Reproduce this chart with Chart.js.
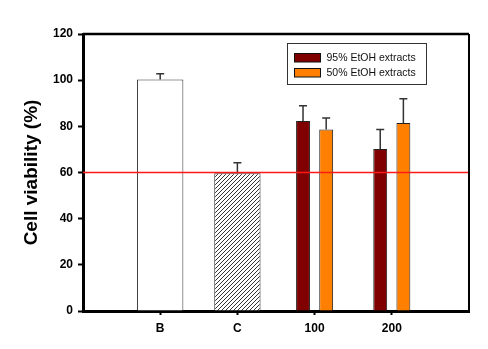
<!DOCTYPE html>
<html>
<head>
<meta charset="utf-8">
<script src="https://cdn.jsdelivr.net/npm/chart.js@4/dist/chart.umd.min.js"></script>
<style>
    html, body { margin: 0; padding: 0; background: #fff; }
    #wrap { position: relative; width: 488px; height: 349px; }
</style>
</head>
<body>
<div id="wrap"><canvas id="viabilityChart"></canvas></div>
<script>
// Treatment groups on the x axis
const categories = ['B', 'C', '100', '200'];

// Cell viability (%), null where a group has no bar
const blankValues = [100.3, null, null, null];
const blankErrors = [2.5, null, null, null];
const controlValues = [null, 59.7, null, null];
const controlErrors = [null, 4.5, null, null];
const etoh95Values = [null, null, 82.3, 70.2];
const etoh95Errors = [null, null, 6.6, 8.4];
const etoh50Values = [null, null, 78.6, 81.4];
const etoh50Errors = [null, null, 5.0, 10.6];

const yTicks = [0, 20, 40, 60, 80, 100, 120];
const referenceValue = 60;

// empty slots at both ends so the groups sit one step in from the frame
const pad = arr => [null, ...arr, null];
const axisLabels = ['', ...categories, ''];

Chart.defaults.font.family = '"Liberation Sans", Arial, sans-serif';
Chart.defaults.color = '#000';

/**
 * Diagonal hatch used for the C bar
 */
function makeHatch() {
    const size = 4;
    const c = document.createElement('canvas');
    c.width = size;
    c.height = size;
    const g = c.getContext('2d');
    g.fillStyle = '#fff';
    g.fillRect(0, 0, size, size);
    g.strokeStyle = '#333';
    g.lineWidth = 1;
    g.beginPath();
    g.moveTo(0, size); g.lineTo(size, 0);
    g.moveTo(-1, 1); g.lineTo(1, -1);
    g.moveTo(size - 1, size + 1); g.lineTo(size + 1, size - 1);
    g.stroke();
    return g.createPattern(c, 'repeat');
}

// Upper whiskers only (lower half is hidden by the bar)
const errorBarPlugin = {
    id: 'errorBars',
    afterDatasetsDraw(chart) {
        const ctx = chart.ctx;
        const yScale = chart.scales.y;
        ctx.save();
        ctx.strokeStyle = '#333';
        ctx.lineWidth = 1.5;
        chart.data.datasets.forEach((ds, i) => {
            const meta = chart.getDatasetMeta(i);
            ds.data.forEach((v, j) => {
                const err = ds.errors[j];
                if (v === null || err === null) return;
                const bar = meta.data[j];
                const yTop = yScale.getPixelForValue(v + err);
                ctx.beginPath();
                ctx.moveTo(bar.x, bar.y);
                ctx.lineTo(bar.x, yTop);
                ctx.moveTo(bar.x - 4, yTop);
                ctx.lineTo(bar.x + 4, yTop);
                ctx.stroke();
            });
        });
        ctx.restore();
    }
};

// Red reference line, top/right frame and the boxed legend
const decorPlugin = {
    id: 'decor',
    afterDatasetsDraw(chart) {
        const ctx = chart.ctx;
        const area = chart.chartArea;
        const y = chart.scales.y.getPixelForValue(referenceValue);
        ctx.save();
        ctx.strokeStyle = '#ff1a1a';
        ctx.lineWidth = 1.3;
        ctx.beginPath();
        ctx.moveTo(area.left, y);
        ctx.lineTo(area.right, y);
        ctx.stroke();

        ctx.strokeStyle = '#000';
        ctx.lineWidth = 2.5;
        ctx.beginPath();
        ctx.moveTo(area.left, area.top);
        ctx.lineTo(area.right, area.top);
        ctx.stroke();
        ctx.lineWidth = 2;
        ctx.beginPath();
        ctx.moveTo(area.right, area.top);
        ctx.lineTo(area.right, area.bottom);
        ctx.stroke();

        // legend box
        const bx = area.left + 204.5, by = area.top + 9.5;
        ctx.lineWidth = 1;
        ctx.strokeStyle = '#333';
        ctx.strokeRect(bx, by, 139, 41);
        const items = chart.data.datasets.filter(ds => ds.inLegend);
        ctx.font = '10.5px "Liberation Sans", Arial, sans-serif';
        ctx.textBaseline = 'middle';
        items.forEach((ds, k) => {
            const sy = by + 10 + k * 15;
            ctx.fillStyle = ds.backgroundColor;
            ctx.fillRect(bx + 7, sy, 26, 8.5);
            ctx.strokeStyle = '#111';
            ctx.strokeRect(bx + 7, sy, 26, 8.5);
            ctx.fillStyle = '#111';
            ctx.fillText(ds.label, bx + 39, sy + 4.5);
        });
        ctx.restore();
    }
};

const ctx = document.getElementById('viabilityChart').getContext('2d');
const chart = new Chart(ctx, {
    type: 'bar',
    data: {
        labels: axisLabels,
        datasets: [
            {
                label: 'B',
                data: pad(blankValues),
                errors: pad(blankErrors),
                backgroundColor: '#ffffff',
                borderColor: '#333',
                borderWidth: 1,
                barPercentage: 1,
                categoryPercentage: 0.6,
                skipNull: true
            },
            {
                label: 'C',
                data: pad(controlValues),
                errors: pad(controlErrors),
                backgroundColor: makeHatch(),
                borderColor: '#333',
                borderWidth: 1,
                barPercentage: 1,
                categoryPercentage: 0.6,
                skipNull: true
            },
            {
                label: '95% EtOH extracts',
                data: pad(etoh95Values),
                errors: pad(etoh95Errors),
                backgroundColor: '#800000',
                borderColor: '#222',
                borderWidth: 1,
                barPercentage: 0.6,
                categoryPercentage: 0.6,
                skipNull: true,
                inLegend: true
            },
            {
                label: '50% EtOH extracts',
                data: pad(etoh50Values),
                errors: pad(etoh50Errors),
                backgroundColor: '#ff8000',
                borderColor: '#222',
                borderWidth: 1,
                barPercentage: 0.6,
                categoryPercentage: 0.6,
                skipNull: true,
                inLegend: true
            }
        ]
    },
    options: {
        responsive: true,
        maintainAspectRatio: false,
        animation: false,
        layout: { padding: { top: 34, right: 19, left: 0, bottom: 0 } },
        plugins: {
            legend: { display: false },
            tooltip: { enabled: false }
        },
        scales: {
            x: {
                type: 'category',
                offset: false,
                z: 1,
                grid: {
                    offset: false,
                    drawOnChartArea: false,
                    drawTicks: true,
                    tickLength: 4,
                    tickWidth: 2,
                    tickColor: c => (c.tick && c.tick.label ? '#000' : 'rgba(0,0,0,0)')
                },
                border: { color: '#000', width: 3 },
                ticks: {
                    autoSkip: false,
                    maxRotation: 0,
                    padding: 6,
                    color: '#000',
                    font: { size: 12, weight: 'bold' }
                },
                afterFit: s => { s.height = 38; }
            },
            y: {
                min: yTicks[0],
                max: yTicks[yTicks.length - 1],
                z: 1,
                afterBuildTicks: s => { s.ticks = yTicks.map(v => ({ value: v })); },
                grid: {
                    drawOnChartArea: false,
                    drawTicks: true,
                    tickLength: 5,
                    tickWidth: 2,
                    tickColor: '#000'
                },
                border: { color: '#000', width: 3 },
                ticks: {
                    padding: 5,
                    color: '#000',
                    font: { size: 12, weight: 'bold' }
                },
                title: {
                    display: true,
                    text: 'Cell viability (%)',
                    color: '#000',
                    font: { size: 19, weight: 'bold' },
                    padding: { top: 20, bottom: 0 }
                },
                afterFit: s => { s.width = 83; }
            }
        }
    },
    plugins: [errorBarPlugin, decorPlugin]
});
</script>
</body>
</html>
